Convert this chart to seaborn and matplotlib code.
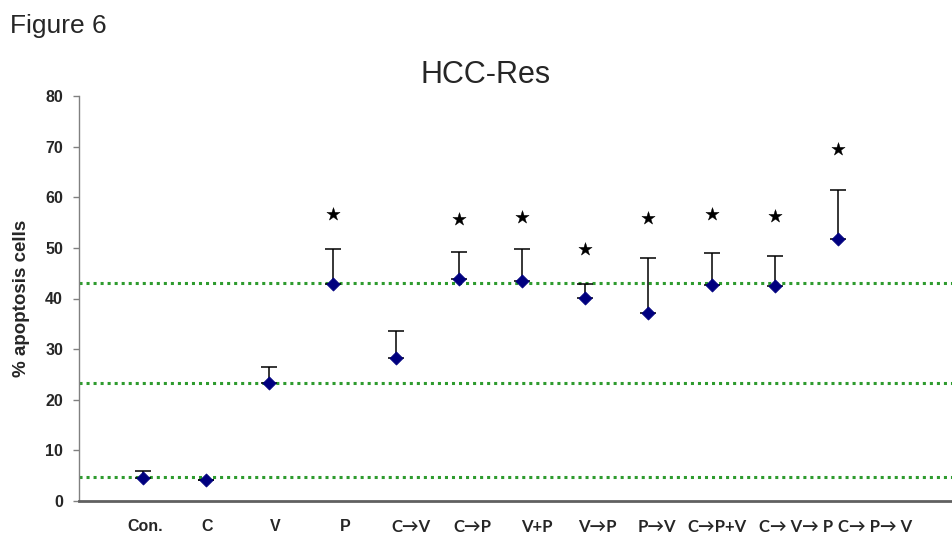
import numpy as np
import pandas as pd
import matplotlib
matplotlib.use("Agg")
import matplotlib.pyplot as plt
import seaborn as sns

# ---- data ----
categories = ["Con.", "C", "V", "P", "C\u2192V", "C\u2192P", "V+P", "V\u2192P",
              "P\u2192V", "C\u2192P+V", "C\u2192 V\u2192 P", "C\u2192 P\u2192 V"]
means = [4.5, 4.1, 23.3, 42.9, 28.3, 43.9, 43.5, 40.1, 37.2, 42.7, 42.5, 51.8]
upper = [5.9, 4.1, 26.5, 49.8, 33.6, 49.2, 49.8, 42.9, 48.0, 49.0, 48.4, 61.5]
stars = [np.nan, np.nan, np.nan, 56.7, np.nan, 55.7, 56.1, 49.8, 55.9, 56.7, 56.3, 69.6]
ref_lines = [4.7, 23.3, 43.1]
y_ticks = [0, 10, 20, 30, 40, 50, 60, 70, 80]

# layout: label shift relative to category position (labels drift right in reference)
label_shift = [0.03, 0.01, 0.10, 0.20, 0.24, 0.22, 0.24, 0.19, 0.14, 0.09, 0.34, 0.59]

sns.set_theme(style="white")
plt.rcParams["font.family"] = ["Liberation Sans", "DejaVu Sans"]

pos = np.arange(len(categories))
df = pd.DataFrame({"pos": pos, "mean": means, "upper": upper, "star": stars})

fig = plt.figure(figsize=(9.53, 5.34), dpi=100)
ax = fig.add_axes([79 / 953, 33 / 534, (953 - 79) / 953, (501 - 96) / 534])

for v in ref_lines:
    ax.axhline(v, color="#2e9b2e", linestyle=(0, (1, 1.3)), linewidth=2.2, zorder=1)

err = np.array(upper) - np.array(means)
ax.errorbar(df["pos"], df["mean"], yerr=[np.zeros_like(err), err], fmt="none",
            ecolor="black", elinewidth=1.1, capsize=5.5, capthick=1.1, zorder=2)

sns.scatterplot(data=df, x="pos", y="mean", marker="D", s=45, color="#00007f",
                edgecolor="#00007f", linewidth=0.5, ax=ax, zorder=3, legend=False)
sns.scatterplot(data=df.dropna(subset=["star"]), x="pos", y="star", marker="*", s=100,
                color="black", edgecolor="black", linewidth=0.3, ax=ax, zorder=3,
                legend=False)

ax.set_xlim(-1.013, 12.82)
ax.set_ylim(0, 80)
ax.set_yticks(y_ticks)
ax.set_yticklabels([str(t) for t in y_ticks], fontsize=11.5, fontweight="bold")
ax.set_xticks(pos + np.array(label_shift))
ax.set_xticklabels(categories, fontsize=11.5, fontweight="bold")
for lab in ax.get_xticklabels():
    t = lab.get_text()
    if "\u2192" in t or "+" in t:
        lab.set_family(["Lato", "DejaVu Sans"])
        lab.set_fontweight("bold")
        lab.set_fontsize(12)
ax.tick_params(axis="x", length=0, pad=13)
ax.tick_params(axis="y", length=4.5, width=1, color="#808080", pad=7, direction="out", left=True)
ax.set_xlabel("")
ax.set_ylabel("% apoptosis cells", fontsize=13.5, fontweight="bold", labelpad=11)

for s in ["top", "right"]:
    ax.spines[s].set_visible(False)
ax.spines["left"].set_color("#808080")
ax.spines["left"].set_linewidth(1)
ax.spines["bottom"].set_color("#606060")
ax.spines["bottom"].set_linewidth(2)

fig.text(486 / 953, 1 - 75 / 534, "HCC-Res", fontsize=22, ha="center", va="center")
fig.text(10 / 953, 1 - 14 / 534, "Figure 6", fontsize=19, ha="left", va="top")

fig.savefig("out.png", dpi=100)
